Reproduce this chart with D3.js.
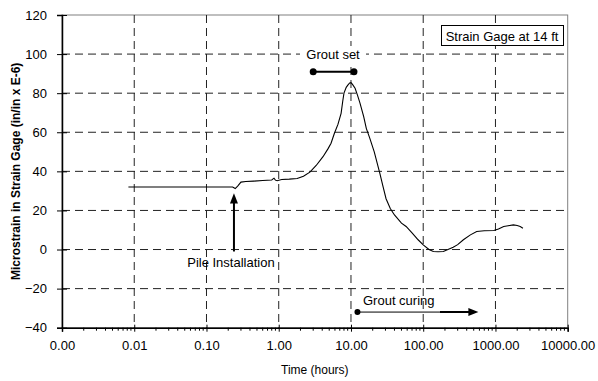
<!DOCTYPE html>
<html>
<head>
<meta charset="utf-8">
<script src="https://cdn.jsdelivr.net/npm/d3@7"></script>
<style>
body { margin: 0; background: #fff; }
svg { font-family: "Liberation Sans", Arial, sans-serif; }
</style>
</head>
<body>
<svg id="chart" width="598" height="381"></svg>
<script>
const timeHours = [0.0083, 0.05, 0.1, 0.2, 0.23, 0.25, 0.27, 0.3, 0.35, 0.45, 0.6, 0.8, 0.86, 0.9, 0.95, 1.1, 1.4, 1.8, 2.2, 2.7, 3.3, 4.1, 4.8, 5.3, 5.9, 6.6, 7.3, 7.7, 8.0, 8.6, 9.1, 9.6, 10, 10.5, 11.4, 12.3, 13.3, 15, 16.3, 18.2, 21, 25.1, 27.8, 30.6, 35, 40, 50, 58, 70, 85, 100, 120, 138, 160, 190, 220, 260, 300, 360, 450, 550, 700, 950, 1100, 1300, 1500, 1770, 2000, 2200, 2400];
const microstrain = [32, 32, 32, 32, 32, 31.2, 32.5, 34.5, 34.8, 35, 35.3, 35.6, 36.5, 35.5, 35.2, 35.8, 36, 36.3, 37.5, 39.6, 43, 47.5, 51.5, 54.4, 59.5, 64, 69.7, 76, 80, 83, 84.2, 85.2, 85.4, 84.5, 82.5, 79, 75, 68, 62, 57, 50, 39, 32.2, 26, 21, 17.7, 13.5, 11.8, 8.5, 5, 2.4, 0, -1, -1.1, -1, 0, 1.2, 2.5, 5, 7.5, 9.2, 9.6, 9.7, 10.5, 11.8, 12.2, 12.6, 12.3, 11.8, 10.9];
const xTickValues = [0.001, 0.01, 0.1, 1, 10, 100, 1000, 10000];
const xTickLabels = ["0.00", "0.01", "0.10", "1.00", "10.00", "100.00", "1000.00", "10000.00"];
const yTickValues = [-40, -20, 0, 20, 40, 60, 80, 100, 120];
const groutSetRange = [3.0, 11.0];       // hours
const groutSetLevel = 91;
const groutCuringStart = 12.3;
const groutCuringEnd = 580;
const groutCuringLevel = -32;
const pileInstallTime = 0.24;

const svg = d3.select("#chart");
const L = 62, R = 567.7, T = 15, B = 327.7;
const x = d3.scaleLog().domain([0.001, 10000]).range([L, R]);
const y = d3.scaleLinear().domain([-40, 120]).range([B, T]);

// plot border (gray)
svg.append("rect").attr("x", L).attr("y", T).attr("width", R - L).attr("height", B - T)
  .attr("fill", "none").attr("stroke", "#808080").attr("stroke-width", 1);

// horizontal gridlines
svg.append("g").selectAll("line").data(yTickValues.filter(v => v > -40 && v < 120)).join("line")
  .attr("x1", L).attr("x2", R).attr("y1", d => y(d)).attr("y2", d => y(d))
  .attr("stroke", "#222").attr("stroke-width", 1).attr("stroke-dasharray", "8,5");
// vertical gridlines
svg.append("g").selectAll("line").data(xTickValues.filter(v => v > 0.001 && v < 10000)).join("line")
  .attr("x1", d => x(d)).attr("x2", d => x(d)).attr("y1", T).attr("y2", B)
  .attr("stroke", "#222").attr("stroke-width", 1).attr("stroke-dasharray", "8,5");

// X axis
const xAxis = d3.axisBottom(x).tickValues(xTickValues)
  .tickFormat((d, i) => xTickLabels[i]).tickSize(4).tickPadding(9);
const gx = svg.append("g").attr("transform", `translate(0,${B})`).call(xAxis);
gx.select(".domain").attr("stroke", "#000").attr("stroke-width", 1.5);
gx.selectAll(".tick line").attr("y1", -3).attr("y2", 4).attr("stroke", "#000");
gx.selectAll("text").attr("font-size", 13).attr("fill", "#000");
// minor ticks
const minor = [];
for (let e = -3; e < 4; e++) for (let m = 2; m <= 9; m++) minor.push(m * Math.pow(10, e));
svg.append("g").selectAll("line").data(minor).join("line")
  .attr("x1", d => x(d)).attr("x2", d => x(d)).attr("y1", B).attr("y2", B + 3)
  .attr("stroke", "#000").attr("stroke-width", 1);

// Y axis
const yAxis = d3.axisLeft(y).tickValues(yTickValues).tickSize(5).tickPadding(10);
const gy = svg.append("g").attr("transform", `translate(${L},0)`).call(yAxis);
gy.select(".domain").attr("stroke", "#000").attr("stroke-width", 1.5);
gy.selectAll(".tick line").attr("x1", -5).attr("x2", 5).attr("stroke", "#000");
gy.selectAll("text").attr("font-size", 13).attr("fill", "#000");

// Axis titles
svg.append("text").attr("x", (L + R) / 2).attr("y", 374).attr("text-anchor", "middle")
  .attr("font-size", 12).text("Time (hours)");
svg.append("text").attr("transform", `translate(20,${(T + B) / 2}) rotate(-90)`)
  .attr("text-anchor", "middle").attr("font-size", 12).attr("font-weight", "bold")
  .text("Microstrain in Strain Gage (in/in x E-6)");

// data line
const line = d3.line().x((d, i) => x(timeHours[i])).y(d => y(d));
svg.append("path").datum(microstrain).attr("d", line)
  .attr("fill", "none").attr("stroke", "#000").attr("stroke-width", 1.1);

// Legend box
svg.append("rect").attr("x", 441.5).attr("y", 25.5).attr("width", 122).attr("height", 20)
  .attr("fill", "#fff").attr("stroke", "#000").attr("stroke-width", 1);
svg.append("text").attr("x", 502).attr("y", 40.5).attr("text-anchor", "middle")
  .attr("font-size", 13).text("Strain Gage at 14 ft");

// Grout set annotation
svg.append("rect").attr("x", 300).attr("y", 46).attr("width", 66).attr("height", 16).attr("fill", "#fff");
svg.append("text").attr("x", 333).attr("y", 59).attr("text-anchor", "middle")
  .attr("font-size", 13).text("Grout set");
svg.append("line").attr("x1", x(groutSetRange[0])).attr("x2", x(groutSetRange[1]))
  .attr("y1", y(groutSetLevel)).attr("y2", y(groutSetLevel))
  .attr("stroke", "#000").attr("stroke-width", 2);
svg.append("g").selectAll("circle").data(groutSetRange).join("circle")
  .attr("cx", d => x(d)).attr("cy", y(groutSetLevel)).attr("r", 3.5).attr("fill", "#000");

// Pile installation arrow
const px = x(pileInstallTime);
svg.append("line").attr("x1", px).attr("x2", px).attr("y1", y(-1)).attr("y2", y(27))
  .attr("stroke", "#000").attr("stroke-width", 2);
svg.append("path").attr("d", `M${px},${y(28.8)} L${px - 4},${y(23.5)} L${px + 4},${y(23.5)} Z`).attr("fill", "#000");
svg.append("text").attr("x", px - 3).attr("y", 267).attr("text-anchor", "middle")
  .attr("font-size", 13).text("Pile Installation");

// Grout curing arrow
const gy0 = y(groutCuringLevel);
svg.append("text").attr("x", 363).attr("y", 304.5).attr("font-size", 13).text("Grout curing");
svg.append("line").attr("x1", x(groutCuringStart)).attr("x2", x(groutCuringEnd) - 8)
  .attr("y1", gy0).attr("y2", gy0).attr("stroke", "#000").attr("stroke-width", 1);
svg.append("line").attr("x1", 440).attr("x2", x(groutCuringEnd) - 6)
  .attr("y1", gy0).attr("y2", gy0).attr("stroke", "#000").attr("stroke-width", 2);
svg.append("circle").attr("cx", x(groutCuringStart)).attr("cy", gy0).attr("r", 3).attr("fill", "#000");
const ex = x(groutCuringEnd);
svg.append("path").attr("d", `M${ex},${gy0} L${ex - 10},${gy0 - 4} L${ex - 10},${gy0 + 4} Z`).attr("fill", "#000");
</script>
</body>
</html>
